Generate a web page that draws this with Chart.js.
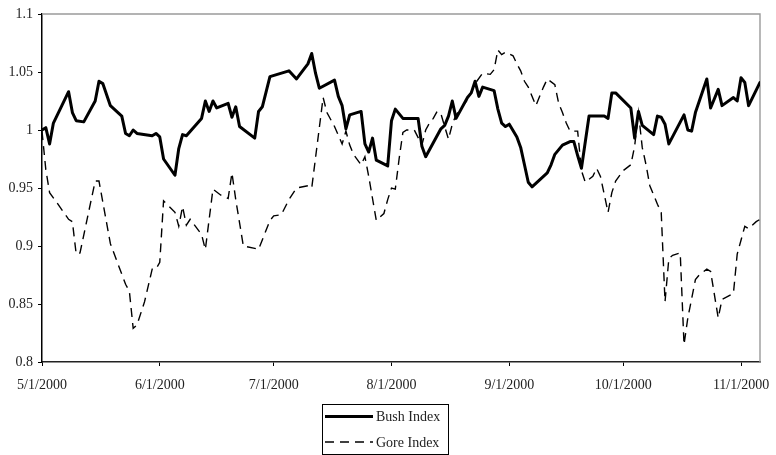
<!DOCTYPE html>
<html>
<head>
<meta charset="utf-8">
<title>Bush and Gore Index</title>
<script src="https://cdn.jsdelivr.net/npm/chart.js@4/dist/chart.umd.min.js"></script>
<style>
  html, body { margin: 0; padding: 0; background: #fff; }
  #wrap { width: 776px; height: 455px; }
</style>
</head>
<body>
<div id="wrap"><canvas id="c" width="776" height="455"></canvas></div>
<script>
// Days are counted from 5/1/2000.
const monthStarts = [0, 31, 61, 92, 123, 153, 184];
const monthLabels = ['5/1/2000', '6/1/2000', '7/1/2000', '8/1/2000', '9/1/2000', '10/1/2000', '11/1/2000'];
const lastDay = 189;

const yTicks = [0.8, 0.85, 0.9, 0.95, 1, 1.05, 1.1];
const yTickLabels = ['0.8', '0.85', '0.9', '0.95', '1', '1.05', '1.1'];

const bushDays = [0, 1, 2, 3, 7, 8, 9, 11, 14, 15, 16, 18, 21, 22, 23, 24, 25, 29, 30, 31,
  32, 35, 36, 37, 38, 42, 43, 44, 45, 46, 49, 50, 51, 52, 56, 57, 58, 60, 65, 67,
  70, 71, 72, 73, 77, 78, 79, 80, 81, 84, 85, 86, 87, 88, 91, 92, 93, 95, 99, 100,
  101, 105, 106, 107, 108, 109, 112, 113, 114, 115, 116, 119, 120, 121, 122, 123, 125, 126, 127, 128,
  129, 133, 134, 135, 137, 139, 140, 141, 142, 144, 148, 149, 150, 151, 155, 156, 157, 158, 161, 162,
  163, 164, 165, 169, 170, 171, 172, 175, 176, 178, 179, 182, 183, 184, 185, 186, 189];
const bushIndex = [1.000, 1.002, 0.988, 1.006, 1.033, 1.015, 1.008, 1.007, 1.025, 1.042, 1.040, 1.021, 1.012, 0.997, 0.995, 1.000, 0.997, 0.995, 0.997, 0.994,
  0.975, 0.961, 0.984, 0.996, 0.995, 1.010, 1.025, 1.016, 1.025, 1.019, 1.023, 1.011, 1.020, 1.003, 0.993, 1.016, 1.020, 1.046, 1.051, 1.044,
  1.057, 1.066, 1.049, 1.036, 1.043, 1.029, 1.021, 1.001, 1.013, 1.016, 0.988, 0.981, 0.993, 0.974, 0.969, 1.008, 1.018, 1.010, 1.010, 0.986,
  0.977, 1.001, 1.004, 1.012, 1.025, 1.010, 1.028, 1.032, 1.042, 1.029, 1.037, 1.034, 1.018, 1.006, 1.003, 1.005, 0.994, 0.985, 0.970, 0.955,
  0.951, 0.963, 0.970, 0.979, 0.987, 0.990, 0.990, 0.978, 0.967, 1.012, 1.012, 1.010, 1.032, 1.032, 1.019, 0.993, 1.016, 1.004, 0.996, 1.012,
  1.011, 1.005, 0.988, 1.013, 1.000, 0.999, 1.015, 1.044, 1.019, 1.035, 1.021, 1.028, 1.025, 1.045, 1.041, 1.021, 1.041];

const goreDays = [0, 1, 2, 4, 7, 8, 9, 10, 14, 15, 18, 22, 23, 24, 25, 27, 29, 30, 31, 32,
  35, 36, 37, 38, 39, 42, 43, 45, 47, 49, 50, 51, 53, 56, 57, 60, 61, 63, 65, 67,
  70, 71, 74, 75, 77, 79, 80, 81, 82, 84, 85, 86, 88, 90, 91, 92, 93, 94, 95, 96,
  98, 100, 101, 102, 103, 104, 105, 106, 107, 108, 109, 112, 114, 116, 118, 119, 120, 121, 122, 124,
  125, 126, 127, 128, 130, 132, 133, 135, 136, 137, 138, 139, 141, 142, 143, 145, 146, 147, 149, 150,
  151, 153, 155, 156, 157, 158, 159, 160, 162, 163, 164, 165, 166, 168, 169, 170, 172, 173, 175, 176,
  178, 179, 182, 183, 185, 186, 188, 189];
const goreIndex = [0.999, 0.966, 0.946, 0.937, 0.923, 0.921, 0.893, 0.894, 0.956, 0.956, 0.902, 0.867, 0.861, 0.829, 0.832, 0.852, 0.880, 0.880, 0.886, 0.939,
  0.929, 0.917, 0.934, 0.918, 0.923, 0.910, 0.897, 0.949, 0.944, 0.941, 0.963, 0.940, 0.900, 0.898, 0.897, 0.922, 0.926, 0.927, 0.940, 0.950,
  0.952, 0.950, 1.028, 1.015, 1.003, 0.988, 0.999, 0.987, 0.979, 0.970, 0.977, 0.960, 0.922, 0.928, 0.940, 0.950, 0.949, 0.975, 0.998, 1.000,
  1.000, 0.987, 1.000, 1.006, 1.010, 1.016, 1.014, 1.003, 0.992, 1.005, 1.013, 1.026, 1.040, 1.049, 1.048, 1.052, 1.069, 1.065, 1.067, 1.064,
  1.057, 1.051, 1.042, 1.037, 1.021, 1.037, 1.044, 1.039, 1.023, 1.015, 1.006, 0.999, 0.999, 0.965, 0.955, 0.960, 0.967, 0.960, 0.929, 0.946,
  0.956, 0.965, 0.970, 0.986, 1.015, 0.985, 0.970, 0.952, 0.936, 0.929, 0.852, 0.889, 0.892, 0.894, 0.815, 0.838, 0.871, 0.875, 0.880, 0.878,
  0.838, 0.854, 0.859, 0.893, 0.917, 0.915, 0.921, 0.923];

const toPoints = (days, values) => days.map((d, i) => ({ x: d, y: values[i] }));

const FONT = { family: "'Liberation Serif', 'DejaVu Serif', serif", size: 14 };
const TEXT = '#222';

// Gray frame on the top and right of the plot area.
const plotFrame = {
  id: 'plotFrame',
  beforeDatasetsDraw(chart) {
    const { ctx, chartArea: a } = chart;
    ctx.save();
    ctx.strokeStyle = '#9a9a9a';
    ctx.lineWidth = 1.4;
    ctx.beginPath();
    ctx.moveTo(a.left, a.top);
    ctx.lineTo(a.right, a.top);
    ctx.lineTo(a.right, a.bottom);
    ctx.stroke();
    ctx.restore();
  }
};

// Boxed legend under the axis, one row per series with a line sample.
const boxedLegend = {
  id: 'boxedLegend',
  afterDraw(chart) {
    const { ctx } = chart;
    const sets = chart.data.datasets;
    const left = 322, top = chart.chartArea.bottom + 42;
    const w = 126, rowH = 25.5, h = rowH * sets.length - 1;
    ctx.save();
    ctx.strokeStyle = '#000';
    ctx.lineWidth = 1;
    ctx.strokeRect(left + 0.5, top + 0.5, w, h);
    ctx.font = `${FONT.size}px ${FONT.family}`;
    ctx.textBaseline = 'middle';
    ctx.fillStyle = TEXT;
    sets.forEach((ds, i) => {
      const y = top + 12.5 + i * rowH;
      ctx.save();
      ctx.strokeStyle = ds.borderColor;
      ctx.lineWidth = ds.borderWidth;
      ctx.setLineDash(ds.borderDash || []);
      ctx.beginPath();
      ctx.moveTo(left + 3, y);
      ctx.lineTo(left + 51, y);
      ctx.stroke();
      ctx.restore();
      ctx.fillText(ds.label, left + 54, y + 1);
    });
    ctx.restore();
  }
};

new Chart(document.getElementById('c'), {
  type: 'line',
  data: {
    datasets: [
      {
        label: 'Bush Index',
        data: toPoints(bushDays, bushIndex),
        borderColor: '#000',
        borderWidth: 3,
        borderJoinStyle: 'round',
        borderCapStyle: 'round',
        pointRadius: 0,
        tension: 0
      },
      {
        label: 'Gore Index',
        data: toPoints(goreDays, goreIndex),
        borderColor: '#000',
        borderWidth: 1.4,
        borderDash: [9, 6],
        pointRadius: 0,
        tension: 0
      }
    ]
  },
  options: {
    responsive: false,
    animation: false,
    devicePixelRatio: 1,
    layout: { padding: { left: 0, right: 16, top: 14, bottom: 55 } },
    plugins: { legend: { display: false }, tooltip: { enabled: false } },
    scales: {
      x: {
        type: 'linear',
        min: 0,
        max: lastDay,
        afterBuildTicks: s => { s.ticks = monthStarts.map(v => ({ value: v })); },
        afterFit: s => { s.height = 38; s.paddingLeft = 0; s.paddingRight = 0; },
        ticks: {
          autoSkip: false,
          maxRotation: 0,
          padding: 11,
          font: FONT,
          color: TEXT,
          callback: v => monthLabels[monthStarts.indexOf(v)]
        },
        grid: { drawOnChartArea: false, tickLength: 4, color: '#000', lineWidth: 1 },
        border: { color: '#222', width: 1.5 }
      },
      y: {
        min: 0.8,
        max: 1.1,
        afterBuildTicks: s => { s.ticks = yTicks.map(v => ({ value: v })); },
        afterFit: s => { s.width = 42; s.paddingTop = 0; s.paddingBottom = 0; },
        ticks: {
          padding: 5,
          font: FONT,
          color: TEXT,
          callback: v => yTickLabels[yTicks.findIndex(t => Math.abs(t - v) < 1e-9)]
        },
        grid: { drawOnChartArea: false, tickLength: 4, color: '#000', lineWidth: 1 },
        border: { color: '#000', width: 1.5 }
      }
    }
  },
  plugins: [plotFrame, boxedLegend]
});
</script>
</body>
</html>
